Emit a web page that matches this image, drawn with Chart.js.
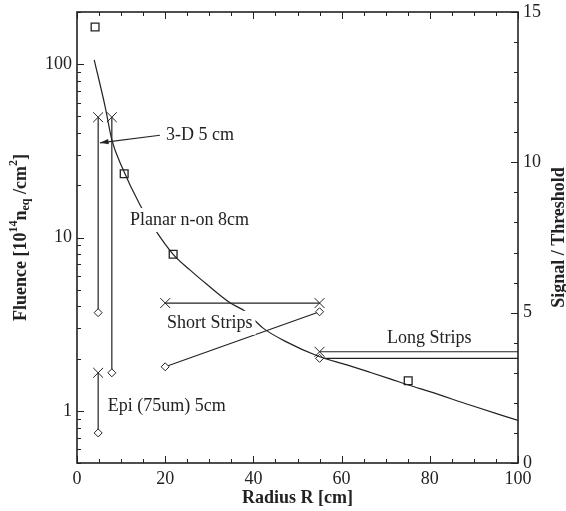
<!DOCTYPE html>
<html>
<head>
<meta charset="utf-8">
<script src="https://cdn.jsdelivr.net/npm/chart.js@4.4.0/dist/chart.umd.min.js"></script>
<style>
body { margin: 0; background: #fff; }
</style>
</head>
<body>
<canvas id="chartHolder" width="566" height="511"></canvas>
<script>
const chartHolder = document.getElementById("chartHolder");

// fluence curve (left, log axis)
const curveRadius = [3.9, 6.4, 7.9, 10.2, 14.3, 17.7, 21.8, 25.6, 29.5, 34.7, 38.1, 42.2, 47.6, 54.6, 61.2, 66.4, 71, 75.5, 80, 89.1, 100];
const curveFluence = [106, 56.6, 36.6, 25.5, 15.4, 11.1, 8.0, 6.5, 5.35, 4.2, 3.75, 3.0, 2.49, 2.07, 1.84, 1.67, 1.53, 1.40, 1.29, 1.08, 0.88];

// square markers (left axis)
const squareRadius = [4.1, 10.7, 21.8, 75.1];
const squareFluence = [164, 23.3, 8.0, 1.49];

// signal / threshold segments (right axis)
const threeDRadius = [4.8, 4.8];
const threeDSignal = [11.5, 5.0];
const planarRadius = [7.9, 7.9];
const planarSignal = [11.5, 3.0];
const epiRadius = [4.8, 4.8];
const epiSignal = [3.0, 1.0];
const shortCrossRadius = [20, 55];
const shortCrossSignal = [5.32, 5.32];
const shortDiamondRadius = [20, 55];
const shortDiamondSignal = [3.2, 5.03];
const longCrossRadius = [55, 100];
const longCrossSignal = [3.7, 3.7];
const longDiamondRadius = [55, 100];
const longDiamondSignal = [3.48, 3.48];

// tick labels
const radiusTicks = [0, 20, 40, 60, 80, 100];
const fluenceTicks = [1, 10, 100];
const signalTicks = [0, 5, 10, 15];

// text notes, anchored in (radius, signal) units
const noteText = ["3-D 5 cm", "Planar n-on 8cm", "Short Strips", "Long Strips", "Epi (75um) 5cm"];
const noteRadius = [20.2, 12.0, 20.4, 70.3, 7.0];
const noteSignal = [10.9, 8.08, 4.66, 4.16, 1.9];
const arrowFrom = [18.8, 10.9];
const arrowTo = [5.2, 10.65];

const serif = "'Liberation Serif', 'Times New Roman', serif";
const ink = "#222";

function toPoints(xs, ys)
{
    return xs.map((x, i) => ({x: x, y: ys[i]}));
}

function segment(xs, ys, styles, sizes)
{
    return {
        data: toPoints(xs, ys),
        yAxisID: 'y1',
        showLine: true,
        borderColor: ink,
        borderWidth: 1.2,
        pointStyle: styles,
        pointRadius: sizes,
        pointBorderColor: ink,
        pointBackgroundColor: "#fff",
        pointBorderWidth: 1
    };
}

const extras = {
    id: 'extras',
    afterDatasetsDraw(chart)
    {
        const ctx = chart.ctx;
        const x = chart.scales.x, y1 = chart.scales.y1;
        ctx.save();
        ctx.font = "18px " + serif;
        ctx.textBaseline = "middle";
        ctx.textAlign = "left";
        for (let i = 0; i < noteText.length; i++)
        {
            const px = x.getPixelForValue(noteRadius[i]);
            const py = y1.getPixelForValue(noteSignal[i]);
            const w = ctx.measureText(noteText[i]).width;
            ctx.fillStyle = "#fff";
            ctx.fillRect(px - 3, py - 12, w + 6, 24);
            ctx.fillStyle = ink;
            ctx.fillText(noteText[i], px, py);
        }
        // arrow for 3-D
        const ax0 = x.getPixelForValue(arrowFrom[0]), ay0 = y1.getPixelForValue(arrowFrom[1]);
        const ax1 = x.getPixelForValue(arrowTo[0]), ay1 = y1.getPixelForValue(arrowTo[1]);
        const ang = Math.atan2(ay1 - ay0, ax1 - ax0);
        ctx.strokeStyle = ink;
        ctx.lineWidth = 1.2;
        ctx.beginPath();
        ctx.moveTo(ax0, ay0);
        ctx.lineTo(ax1, ay1);
        ctx.stroke();
        ctx.fillStyle = ink;
        ctx.beginPath();
        ctx.moveTo(ax1, ay1);
        ctx.lineTo(ax1 - 9 * Math.cos(ang - 0.3), ay1 - 9 * Math.sin(ang - 0.3));
        ctx.lineTo(ax1 - 9 * Math.cos(ang + 0.3), ay1 - 9 * Math.sin(ang + 0.3));
        ctx.closePath();
        ctx.fill();
        ctx.restore();
    },
    afterDraw(chart)
    {
        const ctx = chart.ctx;
        const a = chart.chartArea;
        const x = chart.scales.x, y = chart.scales.y, y1 = chart.scales.y1;
        ctx.save();
        ctx.strokeStyle = ink;
        ctx.lineWidth = 1;
        ctx.beginPath();
        // radius ticks, bottom and top
        for (let v = 0; v <= 100; v += 5)
        {
            const px = Math.round(x.getPixelForValue(v)) + 0.5;
            const len = v % 20 === 0 ? 7 : 4;
            ctx.moveTo(px, a.bottom); ctx.lineTo(px, a.bottom - len);
            ctx.moveTo(px, a.top); ctx.lineTo(px, a.top + len);
        }
        // fluence ticks, left
        for (let d = 0.1; d <= 100; d *= 10)
        {
            for (let k = 1; k <= 9; k++)
            {
                const v = k * d;
                if (v < 0.5 || v > 200) continue;
                const py = Math.round(y.getPixelForValue(v)) + 0.5;
                const len = k === 1 ? 7 : 4;
                ctx.moveTo(a.left, py); ctx.lineTo(a.left + len, py);
            }
        }
        // signal ticks, right
        for (let v = 0; v <= 15; v++)
        {
            const py = Math.round(y1.getPixelForValue(v)) + 0.5;
            const len = v % 5 === 0 ? 7 : 4;
            ctx.moveTo(a.right, py); ctx.lineTo(a.right - len, py);
        }
        ctx.stroke();

        ctx.lineWidth = 1.6;
        ctx.strokeRect(a.left, a.top, a.right - a.left, a.bottom - a.top);

        // axis titles
        ctx.fillStyle = ink;
        ctx.textBaseline = "middle";
        ctx.textAlign = "center";
        ctx.font = "bold 18px " + serif;
        ctx.fillText("Radius R [cm]", (a.left + a.right) / 2, 498);

        ctx.save();
        ctx.translate(559, (a.top + a.bottom) / 2);
        ctx.rotate(-Math.PI / 2);
        ctx.fillText("Signal / Threshold", 0, 0);
        ctx.restore();

        // left title with super/subscripts
        const parts = [
            ["Fluence [10", 18, 0],
            ["14", 12, -7],
            ["n", 18, 0],
            ["eq", 12, 5],
            [" /cm", 18, 0],
            ["2", 12, -7],
            ["]", 18, 0]
        ];
        let total = 0;
        parts.forEach(p => { ctx.font = "bold " + p[1] + "px " + serif; total += ctx.measureText(p[0]).width; });
        ctx.save();
        ctx.translate(21, (a.top + a.bottom) / 2);
        ctx.rotate(-Math.PI / 2);
        ctx.textAlign = "left";
        let cx = -total / 2;
        parts.forEach(p => {
            ctx.font = "bold " + p[1] + "px " + serif;
            ctx.fillText(p[0], cx, p[2]);
            cx += ctx.measureText(p[0]).width;
        });
        ctx.restore();
        ctx.restore();
    }
};

const tickFont = {family: serif, size: 18};

new Chart(chartHolder, {
    type: 'scatter',
    data: {
        datasets: [
            {
                data: toPoints(curveRadius, curveFluence),
                yAxisID: 'y',
                showLine: true,
                borderColor: ink,
                borderWidth: 1.2,
                pointRadius: 0,
                cubicInterpolationMode: 'monotone'
            },
            {
                data: toPoints(squareRadius, squareFluence),
                yAxisID: 'y',
                pointStyle: 'rect',
                pointRadius: 5.5,
                pointBorderColor: ink,
                pointBackgroundColor: "rgba(0,0,0,0)",
                pointBorderWidth: 1.3
            },
            segment(threeDRadius, threeDSignal, ['crossRot', 'rectRot'], [7, 4]),
            segment(planarRadius, planarSignal, ['crossRot', 'rectRot'], [7, 4]),
            segment(epiRadius, epiSignal, ['crossRot', 'rectRot'], [7, 4]),
            segment(shortCrossRadius, shortCrossSignal, ['crossRot', 'crossRot'], [7, 7]),
            segment(shortDiamondRadius, shortDiamondSignal, ['rectRot', 'rectRot'], [4, 4]),
            segment(longCrossRadius, longCrossSignal, ['crossRot', 'crossRot'], [7, 0]),
            segment(longDiamondRadius, longDiamondSignal, ['rectRot', 'rectRot'], [4, 0])
        ]
    },
    options: {
        responsive: false,
        animation: false,
        devicePixelRatio: 1,
        layout: {padding: {top: 12, left: 0, right: 0, bottom: 0}},
        plugins: {
            legend: {display: false},
            tooltip: {enabled: false}
        },
        scales: {
            x: {
                type: 'linear',
                position: 'bottom',
                min: 0,
                max: 100,
                grid: {display: false, drawTicks: false},
                border: {display: false},
                ticks: {font: tickFont, color: ink, padding: 5, maxRotation: 0},
                afterBuildTicks: s => { s.ticks = radiusTicks.map(v => ({value: v})); },
                afterFit: s => { s.height = 48; s.paddingLeft = 0; s.paddingRight = 0; }
            },
            y: {
                type: 'logarithmic',
                position: 'left',
                min: 0.5,
                max: 200,
                grid: {display: false, drawTicks: false},
                border: {display: false},
                ticks: {font: tickFont, color: ink, padding: 5, callback: v => String(v)},
                afterBuildTicks: s => { s.ticks = fluenceTicks.map(v => ({value: v})); },
                afterFit: s => { s.width = 77; s.paddingTop = 0; s.paddingBottom = 0; }
            },
            y1: {
                type: 'linear',
                position: 'right',
                min: 0,
                max: 15,
                grid: {display: false, drawTicks: false},
                border: {display: false},
                ticks: {font: tickFont, color: ink, padding: 5},
                afterBuildTicks: s => { s.ticks = signalTicks.map(v => ({value: v})); },
                afterFit: s => { s.width = 48; s.paddingTop = 0; s.paddingBottom = 0; }
            }
        }
    },
    plugins: [extras]
});
</script>
</body>
</html>
